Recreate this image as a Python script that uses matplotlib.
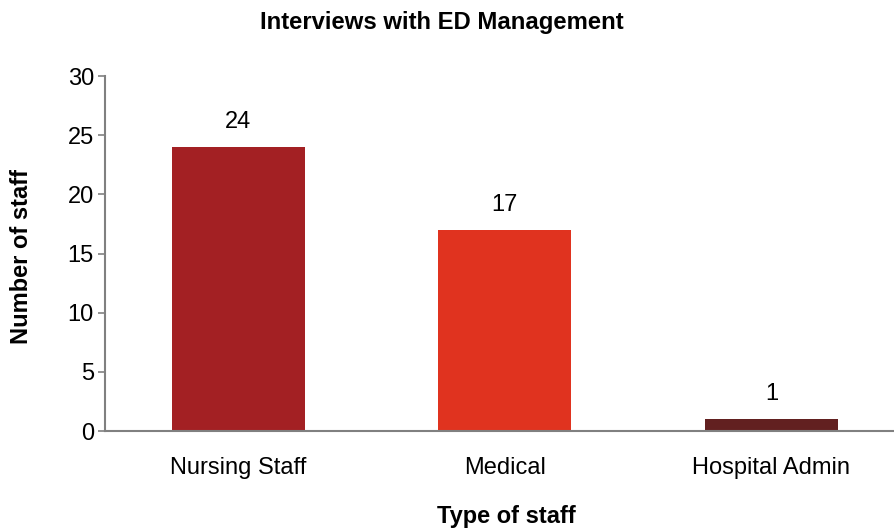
import matplotlib.pyplot as plt

plt.rcParams['font.family'] = ['Liberation Sans', 'DejaVu Sans']

categories = ['Nursing Staff', 'Medical', 'Hospital Admin']
counts = [24, 17, 1]
colors = ['#A32023', '#E0331F', '#622020']

fig = plt.figure(figsize=(8.94, 5.30), dpi=100)
ax = fig.add_axes([105 / 894, 99 / 530, 789 / 894, 355 / 530])

x = range(len(categories))
bars = ax.bar(x, counts, width=0.5, color=colors)
for b, v in zip(bars, counts):
    ax.annotate(str(v), (b.get_x() + b.get_width() / 2, v), xytext=(0, 18),
                textcoords='offset points', ha='center', va='center', fontsize=17)

ax.set_xlim(-0.5, 2.46)
ax.set_ylim(0, 30)
ax.set_yticks(range(0, 31, 5))
ax.set_xticks(list(x))
ax.set_xticklabels(categories)
ax.tick_params(axis='y', labelsize=17, color='#808080', length=5, width=1.2,
               direction='out', pad=3)
ax.tick_params(axis='x', labelsize=17, length=0, pad=19)

for s in ['top', 'right']:
    ax.spines[s].set_visible(False)
for s in ['left', 'bottom']:
    ax.spines[s].set_color('#808080')
    ax.spines[s].set_linewidth(1.5)

fig.text(506 / 894, 1 - 517 / 530, 'Type of staff', ha='center', va='center',
         fontsize=17, fontweight='bold')
fig.text(22 / 894, 1 - 256 / 530, 'Number of staff', ha='center', va='center',
         rotation=90, fontsize=17, fontweight='bold')
fig.text(442 / 894, 1 - 22 / 530, 'Interviews with ED Management', ha='center', va='center',
         fontsize=17.2, fontweight='bold')

fig.savefig('out.png', dpi=100)
